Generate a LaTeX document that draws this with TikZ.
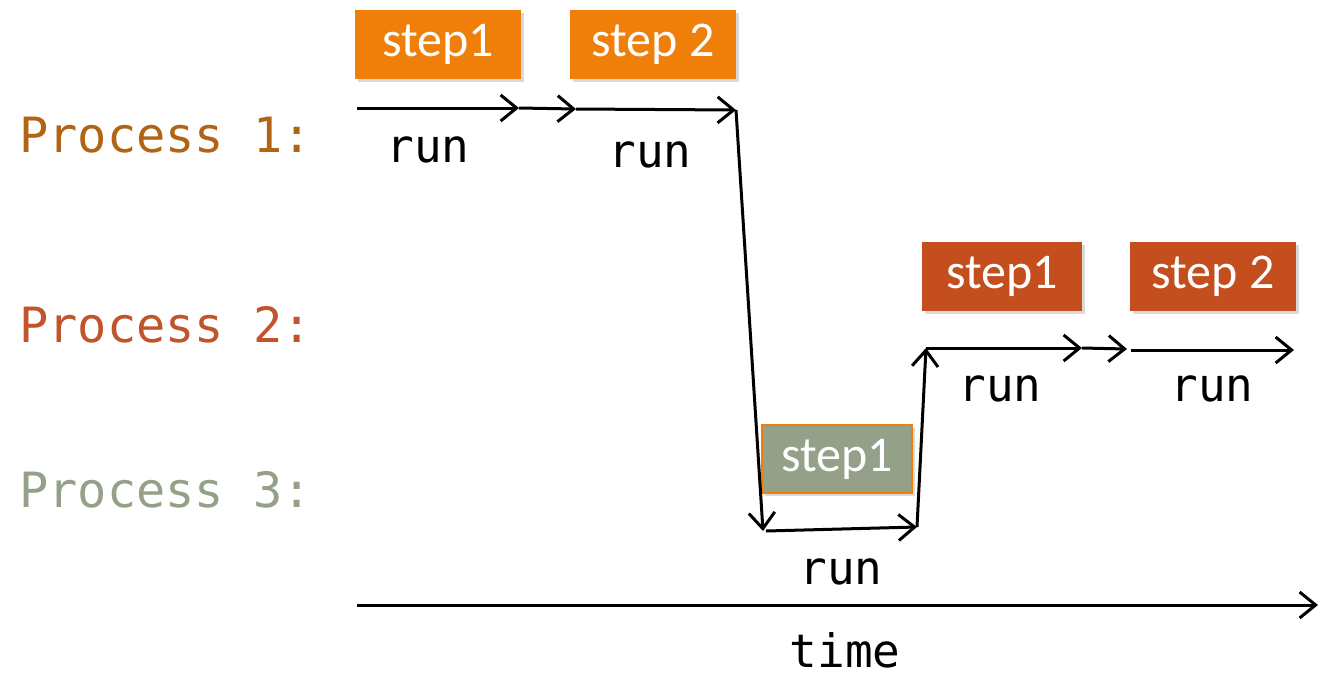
\documentclass[tikz,border=0pt]{standalone}
\usepackage{fontspec}
\setmainfont{Carlito}
\newfontfamily\monof{DejaVu Sans Mono}
\usetikzlibrary{arrows.meta,shadows}
\definecolor{pone}{RGB}{176,100,20}
\definecolor{ptwo}{RGB}{193,84,45}
\definecolor{pthree}{RGB}{148,160,136}
\definecolor{boxone}{RGB}{240,127,9}
\definecolor{boxtwo}{RGB}{196,78,30}
\tikzset{
  stepbox/.style={minimum width=83pt, minimum height=34.5pt, inner sep=0pt, text=white,
    font=\fontsize{25}{28}\selectfont, drop shadow={opacity=0.3, shadow xshift=1.5pt, shadow yshift=-1.5pt}},
  lbl/.style={font=\monof\fontsize{23}{28}\selectfont, inner sep=0pt},
  plbl/.style={font=\monof\fontsize{24.3}{28}\selectfont, inner sep=0pt, anchor=west},
  arr/.style={line width=1.5pt, -{Straight Barb[length=8pt, width=13pt, line width=1.5pt]}}
}
\begin{document}
\begin{tikzpicture}[x=0.5pt, y=-0.5pt]
\useasboundingbox (0,0) rectangle (1319,676);
% process labels
\node[plbl, text=pone] (p1) at (19,135) {Process 1:};
\node[plbl, text=ptwo] (p2) at (19,325) {Process 2:};
\node[plbl, text=pthree] (p3) at (19,490) {Process 3:};
% boxes
\node[stepbox, fill=boxone] (a1) at (438,44) {step1};
\node[stepbox, fill=boxone] (a2) at (653,44) {step 2};
\node[stepbox, fill=boxtwo, minimum width=80pt] (b1) at (1002,276) {step1};
\node[stepbox, fill=boxtwo] (b2) at (1213,276) {step 2};
\node[stepbox, fill=pthree, draw=boxone, line width=1.2pt, minimum width=75pt, minimum height=34pt] (c1) at (837,459) {step1};
% path coordinates
\coordinate (q0) at (357,108);
\coordinate (q1) at (519,108);
\coordinate (q2) at (576,109);
\coordinate (q3) at (736,110);
\coordinate (q4) at (763,531);
\coordinate (q5) at (766,531);
\coordinate (q6) at (917,527);
\coordinate (q7) at (926,348);
\coordinate (q8) at (1082,348);
\coordinate (q9) at (1127,349);
\coordinate (q10) at (1131,350);
\coordinate (q11) at (1294,350);
\coordinate (t0) at (357,605);
\coordinate (t1) at (1318,605);
\draw[arr] (q0) -- (q1);
\draw[arr] (q1) -- (q2);
\draw[arr] (q2) -- (q3);
\draw[arr] (q3) -- (q4);
\draw[arr] (q5) -- (q6);
\draw[arr] (q6) -- (q7);
\draw[arr] (q7) -- (q8);
\draw[arr] (q8) -- (q9);
\draw[arr] (q10) -- (q11);
\draw[arr] (t0) -- (t1);
% run labels
\node[lbl] (r1) at (428,150) {run};
\node[lbl] (r2) at (650,155) {run};
\node[lbl] (r3) at (1000,389) {run};
\node[lbl] (r4) at (1212,389) {run};
\node[lbl] (r5) at (841,572) {run};
\node[lbl] (tm) at (845,650) {time};
\end{tikzpicture}
\end{document}
